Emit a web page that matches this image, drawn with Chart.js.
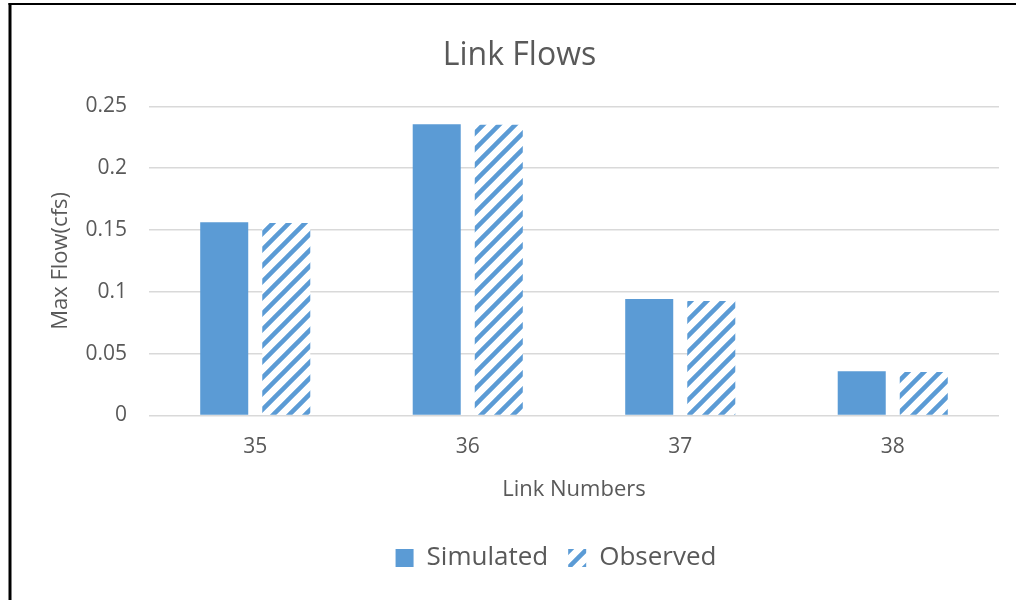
<!DOCTYPE html>
<html>
<head>
<meta charset="utf-8">
<script src="https://cdn.jsdelivr.net/npm/chart.js@4"></script>
<style>
  html, body { margin: 0; padding: 0; background: #ffffff; }
  #wrap { width: 1016px; height: 600px; position: relative; }
</style>
</head>
<body>
<div id="wrap"><canvas id="c" width="1016" height="600"></canvas></div>
<script>
const categories = ['35', '36', '37', '38'];
const simulated = [0.1562, 0.2356, 0.0942, 0.0357];
const observed = [0.1557, 0.2351, 0.0926, 0.0352];
const yTickValues = [0, 0.05, 0.1, 0.15, 0.2, 0.25];

const BLUE = '#5B9BD5';
const TEXT = '#595959';
const FONT = "'Open Sans', sans-serif";

function makeHatch() {
  const s = 16;
  const p = document.createElement('canvas');
  p.width = s; p.height = s;
  const g = p.getContext('2d');
  g.fillStyle = '#ffffff';
  g.fillRect(0, 0, s, s);
  g.strokeStyle = BLUE;
  g.lineWidth = 4.5;
  g.beginPath();
  g.moveTo(-4, s + 4); g.lineTo(s + 4, -4);
  g.moveTo(-4 - s, s + 4); g.lineTo(4, -4);
  g.moveTo(-4 + s, s + 4); g.lineTo(2 * s + 4, -4);
  g.stroke();
  return g.createPattern(p, 'repeat');
}

const framePlugin = {
  id: 'frame',
  afterDraw(chart) {
    const ctx = chart.ctx;
    ctx.save();
    ctx.fillStyle = '#000000';
    ctx.fillRect(8.5, 3, 3, 600);
    ctx.fillRect(8.5, 3, 1016, 2);
    ctx.restore();
  }
};

const legendShift = {
  id: 'legendShift',
  afterLayout(chart) {
    const lg = chart.legend;
    if (!lg) return;
    const w = lg.right - lg.left;
    const center = 556;
    lg.left = center - w / 2;
    lg.right = center + w / 2;
  }
};

new Chart(document.getElementById('c'), {
  type: 'bar',
  data: {
    labels: categories,
    datasets: [
      { label: 'Simulated', data: simulated, backgroundColor: BLUE, borderWidth: 0 },
      { label: 'Observed', data: observed, backgroundColor: makeHatch(), borderWidth: 0 }
    ]
  },
  plugins: [framePlugin, legendShift],
  options: {
    responsive: false,
    animation: false,
    devicePixelRatio: 1,
    datasets: { bar: { categoryPercentage: 0.584, barPercentage: 0.774 } },
    layout: { padding: { left: 40, right: 17, top: 0, bottom: 19 } },
    plugins: {
      title: {
        display: true,
        text: 'Link Flows',
        color: TEXT,
        font: { family: FONT, size: 32, weight: 'normal', lineHeight: 1.2 },
        padding: { top: 37, bottom: 31 }
      },
      legend: {
        position: 'bottom',
        labels: {
          color: TEXT,
          font: { family: FONT, size: 26 },
          boxWidth: 18,
          boxHeight: 18,
          padding: 20
        }
      },
      tooltip: { enabled: false }
    },
    scales: {
      x: {
        grid: { display: false },
        border: { display: false },
        ticks: { color: TEXT, font: { family: FONT, size: 21 }, padding: 11 },
        title: {
          display: true, text: 'Link Numbers', color: TEXT,
          font: { family: FONT, size: 22 }, padding: { top: 6, bottom: 22 }
        }
      },
      y: {
        min: 0, max: 0.25,
        afterBuildTicks(scale) { scale.ticks = yTickValues.map(v => ({ value: v })); },
        afterFit(scale) { scale.width = 109; },
        grid: { color: '#D9D9D9', lineWidth: 1.5, drawTicks: false },
        border: { display: false },
        ticks: {
          color: TEXT, font: { family: FONT, size: 21 }, padding: 22,
          callback: (v) => String(parseFloat(Number(v).toFixed(2)))
        },
        title: {
          display: true, text: 'Max Flow(cfs)', color: TEXT,
          font: { family: FONT, size: 22 }, padding: { top: 8, bottom: 0 }
        }
      }
    }
  }
});
</script>
</body>
</html>
